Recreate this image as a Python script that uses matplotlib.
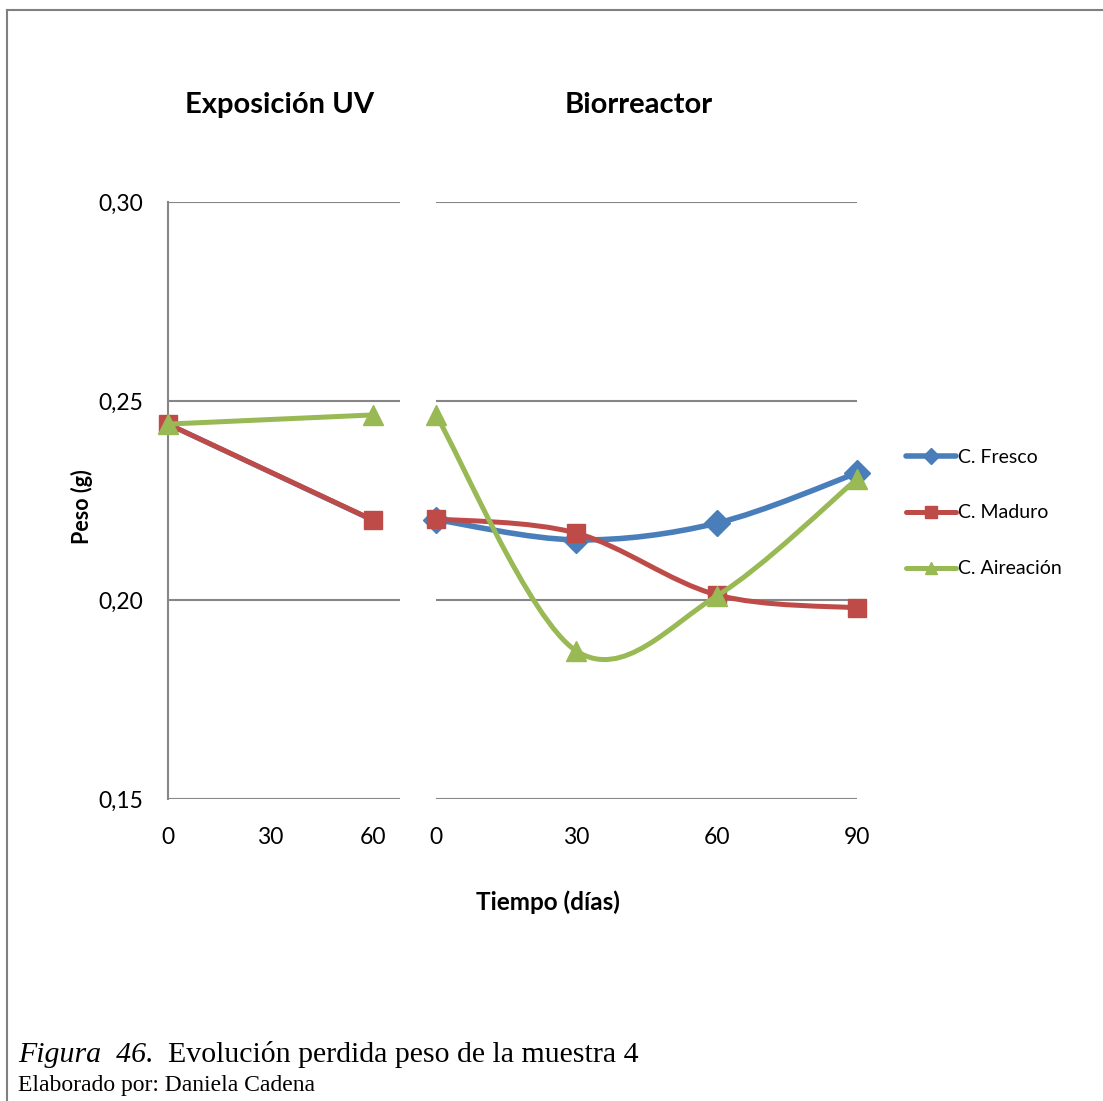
import numpy as np
import matplotlib
matplotlib.use("Agg")
import matplotlib.pyplot as plt
from matplotlib.path import Path
from matplotlib.patches import PathPatch
from matplotlib.lines import Line2D
from matplotlib.ticker import FuncFormatter

plt.rcParams['font.family'] = ['Lato', 'DejaVu Sans']

series = ['C. Fresco', 'C. Maduro', 'C. Aireación']
colors = ['#4A7EBB', '#BE4B48', '#98B954']
markers = ['D', 's', '^']
msizes = [13, 13.5, 15]
widths = [4.0, 3.6, 3.6]

# Exposición UV
uv_dias = [0, 60]
uv_peso = {
    'C. Fresco': [0.2442, 0.2200],
    'C. Maduro': [0.2442, 0.2201],
    'C. Aireación': [0.2442, 0.2465],
}

# Biorreactor
bio_dias = [0, 30, 60, 90]
bio_peso = {
    'C. Fresco': [0.2202, 0.2151, 0.2193, 0.2319],
    'C. Maduro': [0.2204, 0.2168, 0.2013, 0.1980],
    'C. Aireación': [0.2465, 0.1872, 0.2010, 0.2304],
}


def smooth_path(x, y):
    # catmull-rom through the points, written as cubic beziers
    p = np.column_stack([x, y]).astype(float)
    n = len(p)
    verts = [p[0]]
    codes = [Path.MOVETO]
    for i in range(n - 1):
        p0 = p[i - 1] if i > 0 else p[i]
        p3 = p[i + 2] if i + 2 < n else p[i + 1]
        c1 = p[i] + (p[i + 1] - p0) / 6.0
        c2 = p[i + 1] - (p3 - p[i]) / 6.0
        verts += [c1, c2, p[i + 1]]
        codes += [Path.CURVE4] * 3
    return Path(verts, codes)


W, H = 1103, 1101
fig = plt.figure(figsize=(W / 100, H / 100), dpi=100)

ax1 = fig.add_axes([168 / W, 1 - 799 / H, 232 / W, 597 / H])
ax2 = fig.add_axes([436 / W, 1 - 799 / H, 421 / W, 597 / H])

grid_c = '#868686'
fmt = FuncFormatter(lambda v, pos: ('%.2f' % v).replace('.', ','))

for ax, dias, datos, xmax, ticks in [(ax1, uv_dias, uv_peso, 60 * 232 / 205, [0, 30, 60]),
                                     (ax2, bio_dias, bio_peso, 90, [0, 30, 60, 90])]:
    ax.set_xlim(0, xmax)
    ax.set_ylim(0.15, 0.30)
    ax.set_yticks([0.15, 0.20, 0.25, 0.30])
    ax.set_xticks(ticks)
    ax.yaxis.set_major_formatter(fmt)
    ax.tick_params(length=0, labelsize=16.5, pad=20)
    ax.tick_params(axis='y', pad=18)
    for s in ax.spines.values():
        s.set_visible(False)
    ax.grid(axis='y', color=grid_c, linewidth=1.5, zorder=0)
    ax.patch.set_alpha(0)
    for k, name in enumerate(series):
        # in the UV panel the fresco line sits right under the maduro one
        lw = widths[1] if (ax is ax1 and k == 0) else widths[k]
        path = smooth_path(dias, datos[name])
        ax.add_patch(PathPatch(path, facecolor='none', edgecolor=colors[k],
                               linewidth=lw, capstyle='round', joinstyle='round',
                               zorder=2 + 2 * k, clip_on=False))
        if ax is ax1 and k == 0:
            continue
        ax.plot(dias, datos[name], linestyle='none', marker=markers[k],
                markersize=msizes[k], color=colors[k], zorder=3 + 2 * k, clip_on=False)

ax1.spines['left'].set_visible(True)
ax1.spines['left'].set_color(grid_c)
ax1.spines['left'].set_linewidth(1.5)
ax2.tick_params(axis='y', labelleft=False)

fig.text(280 / W, 1 - 105 / H, 'Exposición UV', fontsize=21, fontweight='bold',
         ha='center', va='center')
fig.text(639 / W, 1 - 105 / H, 'Biorreactor', fontsize=21, fontweight='bold',
         ha='center', va='center')

fig.text(82 / W, 1 - 507 / H, 'Peso (g)', rotation=90, fontsize=15.5,
         fontweight='bold', ha='center', va='center')
fig.text(548 / W, 1 - 902 / H, 'Tiempo (días)', fontsize=17.5,
         fontweight='bold', ha='center', va='center')

handles = [Line2D([], [], color=colors[k], linewidth=widths[k], marker=markers[k],
                  markersize=msizes[k] * 0.62, solid_capstyle='round')
           for k in range(3)]
fig.legend(handles, series, loc='center left', bbox_to_anchor=(888 / W, 1 - 513 / H),
           frameon=False, fontsize=14, handlelength=2.6, handletextpad=0.1,
           labelspacing=2.0)

# caption
fig.text(18 / W, 1 - 1062 / H, 'Figura  46.', fontsize=21.5, fontstyle='italic',
         family='Liberation Serif', ha='left', va='baseline')
fig.text(168 / W, 1 - 1062 / H, 'Evolución perdida peso de la muestra 4', fontsize=21.5,
         family='Liberation Serif', ha='left', va='baseline')
fig.text(18 / W, 1 - 1091 / H, 'Elaborado por: Daniela Cadena', fontsize=17,
         family='Liberation Serif', ha='left', va='baseline')

# frame lines along top and left edges
fig.add_artist(Line2D([7 / W, 1.0], [1 - 10 / H] * 2, color='#808080', linewidth=1.5))
fig.add_artist(Line2D([7 / W] * 2, [0.0, 1 - 10 / H], color='#808080', linewidth=1.5))

fig.savefig('out.png', dpi=100)
